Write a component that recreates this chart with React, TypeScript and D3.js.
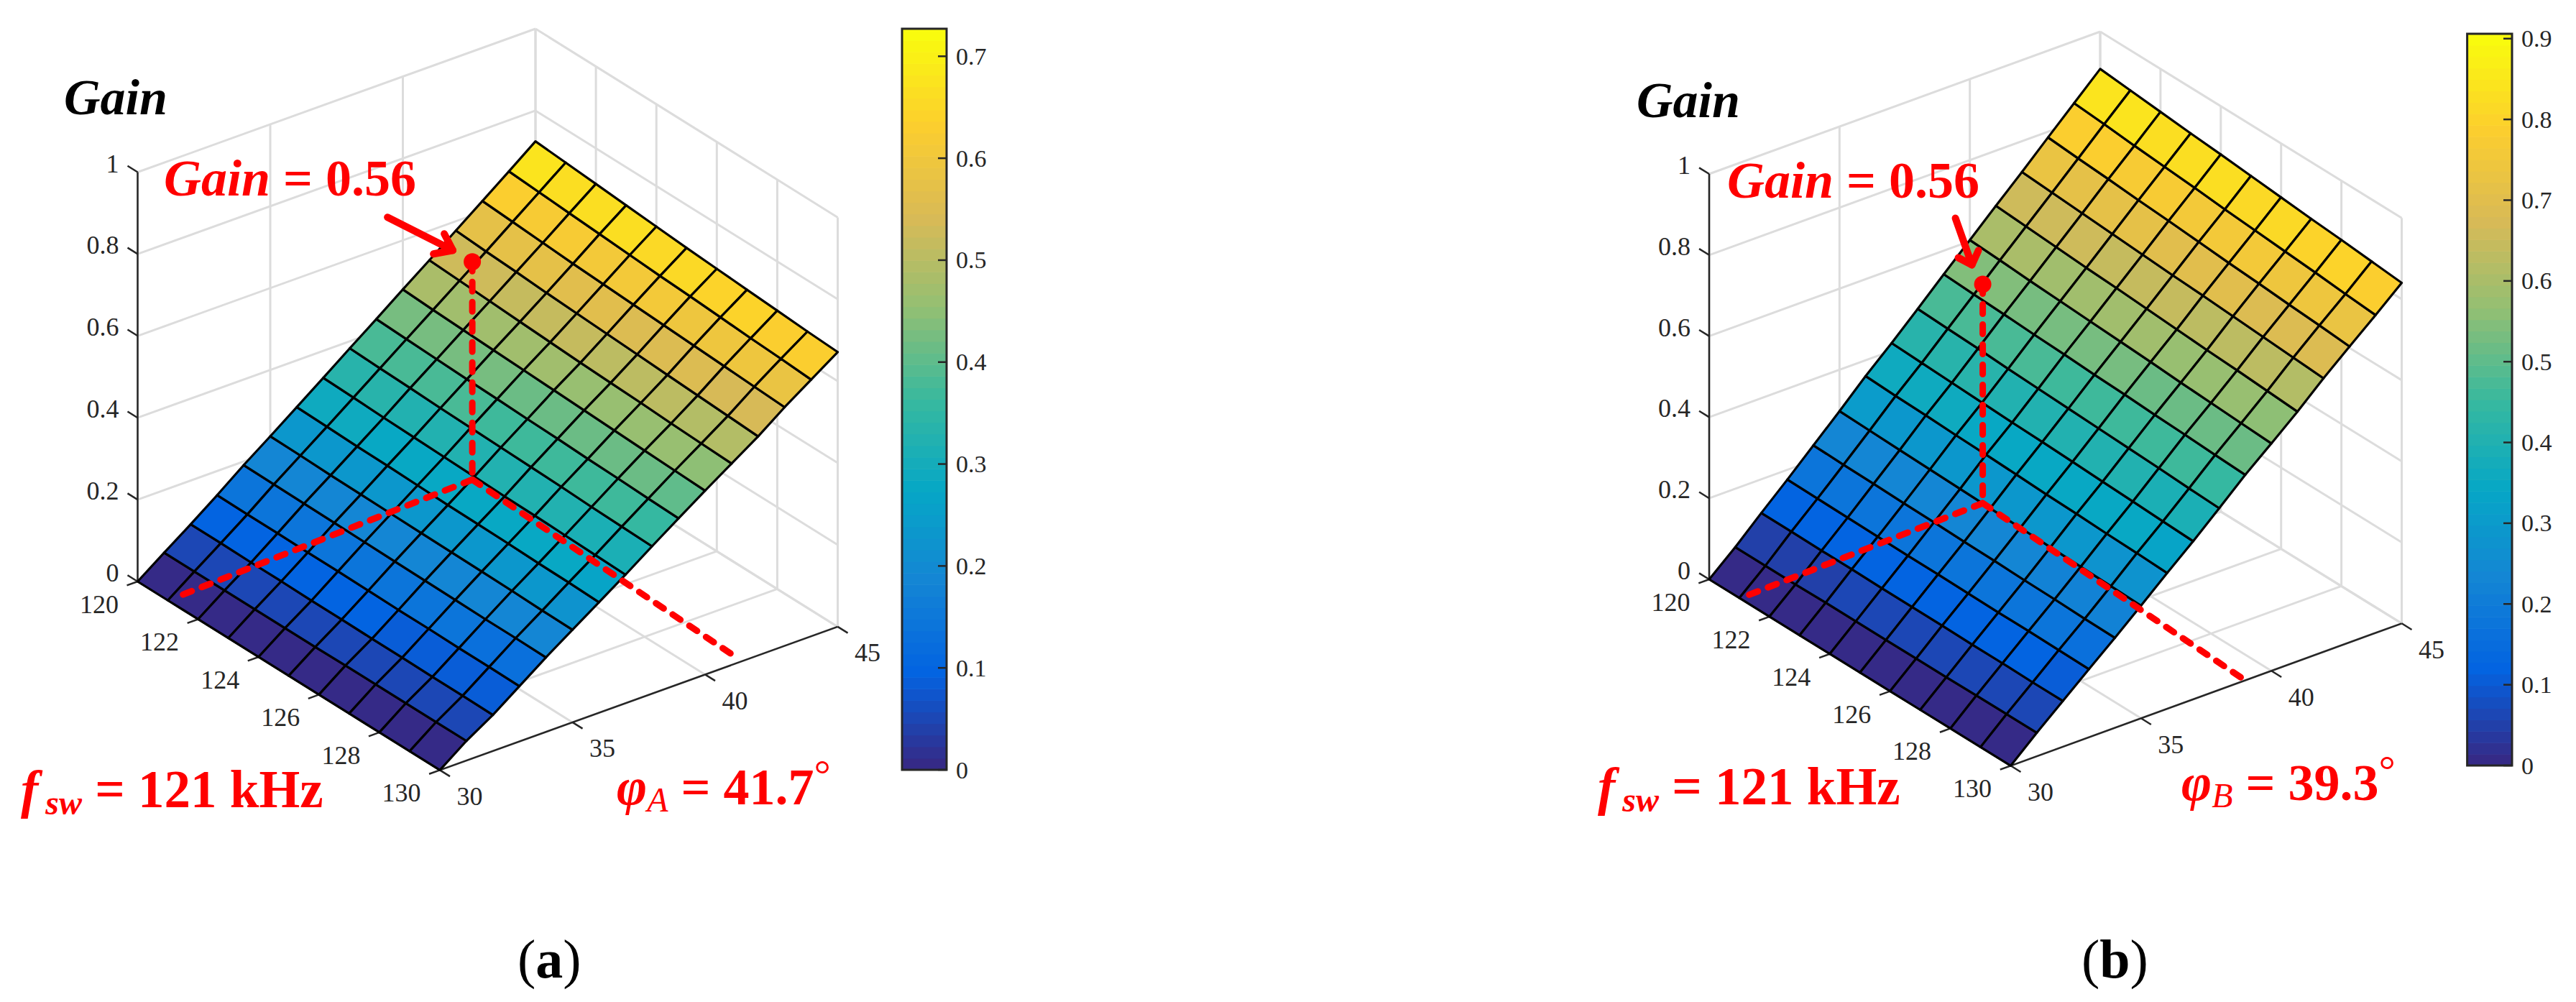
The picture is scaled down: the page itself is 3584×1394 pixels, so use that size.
import React from 'react';
import * as d3 from 'd3';

const fswValues = [120, 121, 122, 123, 124, 125, 126, 127, 128, 129, 130];
const phiValues = [30, 31, 32, 33, 34, 35, 36, 37, 38, 39, 40, 41, 42, 43, 44, 45];

const fswTicks = [120, 122, 124, 126, 128, 130];
const phiTicks = [30, 35, 40, 45];
const gainTicks = [0, 0.2, 0.4, 0.6, 0.8, 1];

// gain, one row per phi, one column per fsw
const gainA = [
  [0, 0, 0, 0, 0, 0, 0, 0, 0, 0, 0],
  [0.047, 0.047, 0.047, 0.047, 0.047, 0.047, 0.048, 0.048, 0.048, 0.048, 0.048],
  [0.093, 0.093, 0.092, 0.092, 0.091, 0.091, 0.09, 0.09, 0.089, 0.089, 0.088],
  [0.141, 0.14, 0.14, 0.139, 0.139, 0.138, 0.137, 0.137, 0.136, 0.136, 0.135],
  [0.191, 0.19, 0.189, 0.188, 0.187, 0.186, 0.185, 0.184, 0.183, 0.183, 0.182],
  [0.238, 0.237, 0.235, 0.234, 0.233, 0.232, 0.231, 0.23, 0.229, 0.227, 0.226],
  [0.286, 0.284, 0.282, 0.281, 0.279, 0.277, 0.276, 0.275, 0.273, 0.272, 0.27],
  [0.334, 0.332, 0.329, 0.327, 0.325, 0.323, 0.321, 0.32, 0.318, 0.316, 0.314],
  [0.383, 0.38, 0.378, 0.375, 0.373, 0.371, 0.369, 0.367, 0.364, 0.362, 0.36],
  [0.431, 0.428, 0.425, 0.422, 0.42, 0.417, 0.415, 0.412, 0.41, 0.407, 0.405],
  [0.48, 0.476, 0.473, 0.47, 0.467, 0.464, 0.461, 0.458, 0.455, 0.452, 0.449],
  [0.528, 0.524, 0.52, 0.516, 0.512, 0.508, 0.505, 0.502, 0.498, 0.495, 0.492],
  [0.577, 0.572, 0.568, 0.563, 0.559, 0.555, 0.551, 0.547, 0.543, 0.539, 0.535],
  [0.626, 0.621, 0.616, 0.611, 0.607, 0.603, 0.599, 0.595, 0.591, 0.587, 0.583],
  [0.675, 0.67, 0.665, 0.66, 0.655, 0.65, 0.646, 0.641, 0.636, 0.632, 0.627],
  [0.725, 0.719, 0.713, 0.707, 0.701, 0.695, 0.69, 0.685, 0.68, 0.675, 0.671],
];

const gainB = [
  [0, 0, 0, 0, 0, 0, 0, 0, 0, 0, 0],
  [0.056, 0.056, 0.056, 0.057, 0.057, 0.057, 0.057, 0.057, 0.058, 0.058, 0.058],
  [0.117, 0.117, 0.116, 0.116, 0.115, 0.115, 0.115, 0.114, 0.114, 0.113, 0.113],
  [0.176, 0.175, 0.174, 0.173, 0.172, 0.172, 0.171, 0.17, 0.17, 0.169, 0.168],
  [0.237, 0.235, 0.234, 0.232, 0.231, 0.229, 0.228, 0.226, 0.225, 0.223, 0.222],
  [0.298, 0.296, 0.294, 0.292, 0.29, 0.288, 0.286, 0.284, 0.282, 0.28, 0.278],
  [0.361, 0.358, 0.356, 0.353, 0.351, 0.348, 0.345, 0.343, 0.34, 0.338, 0.335],
  [0.419, 0.416, 0.413, 0.41, 0.407, 0.405, 0.402, 0.399, 0.396, 0.393, 0.39],
  [0.48, 0.477, 0.474, 0.47, 0.467, 0.464, 0.461, 0.458, 0.455, 0.451, 0.448],
  [0.542, 0.538, 0.535, 0.531, 0.528, 0.524, 0.521, 0.517, 0.514, 0.51, 0.507],
  [0.603, 0.599, 0.594, 0.59, 0.586, 0.582, 0.578, 0.573, 0.569, 0.565, 0.561],
  [0.664, 0.659, 0.654, 0.649, 0.645, 0.64, 0.635, 0.63, 0.626, 0.621, 0.616],
  [0.724, 0.719, 0.714, 0.709, 0.704, 0.699, 0.695, 0.69, 0.685, 0.68, 0.675],
  [0.786, 0.78, 0.775, 0.769, 0.764, 0.758, 0.752, 0.747, 0.741, 0.736, 0.73],
  [0.847, 0.841, 0.834, 0.828, 0.822, 0.815, 0.809, 0.803, 0.797, 0.79, 0.784],
  [0.908, 0.901, 0.894, 0.887, 0.881, 0.874, 0.867, 0.86, 0.854, 0.847, 0.84],
];

const colorbarTicksA = [0, 0.1, 0.2, 0.3, 0.4, 0.5, 0.6, 0.7];
const colorbarTicksB = [0, 0.1, 0.2, 0.3, 0.4, 0.5, 0.6, 0.7, 0.8, 0.9];

// [fsw, phi, gain] of the marked point, and where the dashed guides end on the floor
const markA = [120.63, 41.9, 0.532];
const guideEndsA = [[121, 30.2], [129.87, 41.4]];
const markB = [120.79, 39.58, 0.54];
const guideEndsB = [[121.02, 30.03], [129.95, 39.0]];

const parula = ['#352a87', '#0363e1', '#1485d4', '#06a7c6', '#38b99e', '#92bf73', '#d9ba56', '#fcce2e', '#f9fb0e'];

const SERIF = '"Liberation Serif", "Times New Roman", serif';
const RED = '#ff0000';
const DARK = '#262626';
const GRID = '#dcdcdc';

const palette = d3.piecewise(d3.interpolateRgb, parula);
const LEVELS = 64;
const levelColor = d3.scaleQuantize<string>()
  .domain([0, 1])
  .range(d3.range(LEVELS).map((i) => palette(i / (LEVELS - 1))));

interface PanelProps {
  gain: number[][];
  colorbarTicks: number[];
  gainMax: number;
  mark: number[];
  guideEnds: number[][];
  origin: [number, number];
  fswVec: [number, number];
  phiVec: [number, number];
  zHeight: number;
  bar: { x0: number; x1: number; top: number; bottom: number };
  arrow: number[][]; // offsets from the dot: start, tip, barb, barb
  gainTitle: [number, number];
  gainNote: [number, number];
  fswNote: [number, number];
  phiNote: [number, number];
  phiSub: string;
  phiValue: string;
  caption: string;
  captionX: number;
}

const Panel: React.FC<PanelProps> = (p) => {
  const u = d3.scaleLinear().domain([120, 130]).range([0, 1]);
  const v = d3.scaleLinear().domain([30, 45]).range([0, 1]);
  const w = d3.scaleLinear().domain([0, 1]).range([0, p.zHeight]);

  const project = (fsw: number, phi: number, z = 0): [number, number] => [
    p.origin[0] + u(fsw) * p.fswVec[0] + v(phi) * p.phiVec[0],
    p.origin[1] + u(fsw) * p.fswVec[1] + v(phi) * p.phiVec[1] - w(z),
  ];
  const line = d3.line();
  const seg = (a: [number, number], b: [number, number]) => line([a, b]) || '';

  const color = d3.scaleLinear().domain([0, p.gainMax]).range([0, 1]).clamp(true);
  const barY = d3.scaleLinear().domain([0, p.gainMax]).range([p.bar.bottom, p.bar.top]);

  const fLast = fswValues.length - 1;
  const pLast = phiValues.length - 1;
  const bands = d3.range(LEVELS);

  const tickF: [number, number] = [p.fswVec[0] / 30, p.fswVec[1] / 30];
  const tickP: [number, number] = [p.phiVec[0] / 37, p.phiVec[1] / 37];

  const dot = project(p.mark[0], p.mark[1], p.mark[2]);
  const foot = project(p.mark[0], p.mark[1], 0);
  const arrowPt = (i: number): [number, number] => [dot[0] + p.arrow[i][0], dot[1] + p.arrow[i][1]];

  return (
    <g fontFamily={SERIF}>
      {/* back walls and floor */}
      <g stroke={GRID} strokeWidth={3} fill="none">
        {gainTicks.map((g) => (
          <g key={g}>
            <path d={seg(project(120, 30, g), project(120, 45, g))} />
            <path d={seg(project(120, 45, g), project(130, 45, g))} />
          </g>
        ))}
        {phiTicks.map((t) => (
          <g key={t}>
            <path d={seg(project(120, t, 0), project(120, t, 1))} />
            <path d={seg(project(120, t, 0), project(130, t, 0))} />
          </g>
        ))}
        {fswTicks.map((t) => (
          <g key={t}>
            <path d={seg(project(t, 45, 0), project(t, 45, 1))} />
            <path d={seg(project(t, 30, 0), project(t, 45, 0))} />
          </g>
        ))}
      </g>

      {/* axes */}
      <g stroke={DARK} strokeWidth={2.5} fill="none">
        <path d={seg(project(120, 30, 0), project(120, 30, 1))} />
        <path d={seg(project(120, 30, 0), project(130, 30, 0))} />
        <path d={seg(project(130, 30, 0), project(130, 45, 0))} />
        {gainTicks.map((g) => {
          const a = project(120, 30, g);
          return <path key={g} d={seg(a, [a[0] - tickF[0], a[1] - tickF[1]])} />;
        })}
        {fswTicks.map((t) => {
          const a = project(t, 30, 0);
          return <path key={t} d={seg(a, [a[0] - tickP[0], a[1] - tickP[1]])} />;
        })}
        {phiTicks.map((t) => {
          const a = project(130, t, 0);
          return <path key={t} d={seg(a, [a[0] + tickF[0], a[1] + tickF[1]])} />;
        })}
      </g>

      {/* surface, flat shaded from the low corner of each cell */}
      <g stroke="#000" strokeWidth={3.2} strokeLinejoin="round">
        {d3.range(pLast).map((j) =>
          d3.range(fLast).map((i) => {
            const corners = [
              project(fswValues[i], phiValues[j], p.gain[j][i]),
              project(fswValues[i + 1], phiValues[j], p.gain[j][i + 1]),
              project(fswValues[i + 1], phiValues[j + 1], p.gain[j + 1][i + 1]),
              project(fswValues[i], phiValues[j + 1], p.gain[j + 1][i]),
            ] as [number, number][];
            return (
              <path
                key={`${j}-${i}`}
                d={(line(corners) || '') + 'Z'}
                fill={levelColor(color(p.gain[j][i]))}
              />
            );
          })
        )}
      </g>

      {/* tick labels */}
      <g fill={DARK} fontSize={36}>
        {gainTicks.map((g) => {
          const a = project(120, 30, g);
          return (
            <text key={g} x={a[0] - 26} y={a[1] - 12} textAnchor="end" dominantBaseline="central">
              {String(g)}
            </text>
          );
        })}
        {fswTicks.map((t) => {
          const a = project(t, 30, 0);
          return (
            <text key={t} x={a[0] - 53.5} y={a[1] + 32} textAnchor="middle" dominantBaseline="central">
              {t}
            </text>
          );
        })}
        {phiTicks.map((t) => {
          const a = project(130, t, 0);
          return (
            <text key={t} x={a[0] + 41.5} y={a[1] + 36.5} textAnchor="middle" dominantBaseline="central">
              {t}
            </text>
          );
        })}
      </g>

      {/* colorbar */}
      <g>
        {bands.map((b) => (
          <rect
            key={b}
            x={p.bar.x0}
            y={p.bar.top + ((p.bar.bottom - p.bar.top) * (LEVELS - 1 - b)) / LEVELS}
            width={p.bar.x1 - p.bar.x0}
            height={(p.bar.bottom - p.bar.top) / LEVELS + 0.6}
            fill={levelColor(b / (LEVELS - 1))}
          />
        ))}
        <rect
          x={p.bar.x0}
          y={p.bar.top}
          width={p.bar.x1 - p.bar.x0}
          height={p.bar.bottom - p.bar.top}
          fill="none"
          stroke={DARK}
          strokeWidth={3}
        />
        {p.colorbarTicks.map((t) => (
          <g key={t}>
            <path d={seg([p.bar.x1 - 12, barY(t)], [p.bar.x1, barY(t)])} stroke={DARK} strokeWidth={2.5} />
            <text x={p.bar.x1 + 13} y={barY(t)} fontSize={34} fill={DARK} dominantBaseline="central">
              {String(t)}
            </text>
          </g>
        ))}
      </g>

      {/* marked point and guides */}
      <g stroke={RED} strokeWidth={9} fill="none" strokeLinecap="round" strokeLinejoin="round">
        <path d={seg(dot, foot)} strokeDasharray="13 15" />
        <path d={seg(foot, project(p.guideEnds[0][0], p.guideEnds[0][1]))} strokeDasharray="13 15" />
        <path d={seg(foot, project(p.guideEnds[1][0], p.guideEnds[1][1]))} strokeDasharray="13 15" />
        <path d={seg(arrowPt(0), arrowPt(1))} strokeWidth={10} />
        <path d={line([arrowPt(2), arrowPt(1), arrowPt(3)]) || ''} strokeWidth={10} />
      </g>
      <circle cx={dot[0]} cy={dot[1]} r={12} fill={RED} />

      {/* annotations */}
      <text x={p.gainTitle[0]} y={p.gainTitle[1]} fontSize={70} fontWeight="bold" fontStyle="italic" fill="#000">
        Gain
      </text>
      <text x={p.gainNote[0]} y={p.gainNote[1]} fontSize={72} fontWeight="bold" fill={RED}>
        <tspan fontStyle="italic">Gain</tspan>
        {' = 0.56'}
      </text>
      <text x={p.fswNote[0]} y={p.fswNote[1]} fontSize={73} fontWeight="bold" fill={RED}>
        <tspan fontStyle="italic">f</tspan>
        <tspan fontStyle="italic" fontSize={48} dy={10} dx={10}>sw</tspan>
        <tspan dy={-10}>{' = 121 kHz'}</tspan>
      </text>
      <text x={p.phiNote[0]} y={p.phiNote[1]} fontSize={72} fontWeight="bold" fill={RED}>
        <tspan fontStyle="italic">φ</tspan>
        <tspan fontStyle="italic" fontWeight="normal" fontSize={48} dy={10}>{p.phiSub}</tspan>
        <tspan dy={-10}>{` = ${p.phiValue}`}</tspan>
        <tspan fontWeight="normal" fontSize={58} dy={-22}>°</tspan>
      </text>
      <text x={p.captionX} y={1360} fontSize={76} fill="#000">
        (<tspan fontWeight="bold">{p.caption}</tspan>)
      </text>
    </g>
  );
};

export default function App() {
  return (
    <svg
      width={3584}
      height={1394}
      viewBox="0 0 3584 1394"
      style={{ position: 'absolute', left: 0, top: 0, display: 'block', background: '#fff' }}
    >
      <Panel
        gain={gainA}
        colorbarTicks={colorbarTicksA}
        gainMax={0.727}
        mark={markA}
        guideEnds={guideEndsA}
        origin={[191.5, 809]}
        fswVec={[420.5, 262.4]}
        phiVec={[553.5, -199.5]}
        zHeight={569.5}
        bar={{ x0: 1255, x1: 1317, top: 40, bottom: 1071 }}
        arrow={[[-118, -62], [-27, -16], [-39, -39], [-54, -11]]}
        gainTitle={[89, 159]}
        gainNote={[228, 272]}
        fswNote={[29, 1123]}
        phiNote={[858, 1119]}
        phiSub="A"
        phiValue="41.7"
        caption="a"
        captionX={720}
      />
      <Panel
        gain={gainB}
        colorbarTicks={colorbarTicksB}
        gainMax={0.906}
        mark={markB}
        guideEnds={guideEndsB}
        origin={[2378, 806]}
        fswVec={[419.5, 259.3]}
        phiVec={[544, -198]}
        zHeight={564}
        bar={{ x0: 3432.6, x1: 3495, top: 47, bottom: 1065 }}
        arrow={[[-38, -92], [-15, -27], [-6, -47], [-34, -37]]}
        gainTitle={[2277, 163]}
        gainNote={[2403, 275]}
        fswNote={[2223, 1119]}
        phiNote={[3035, 1113]}
        phiSub="B"
        phiValue="39.3"
        caption="b"
        captionX={2896}
      />
    </svg>
  );
}
